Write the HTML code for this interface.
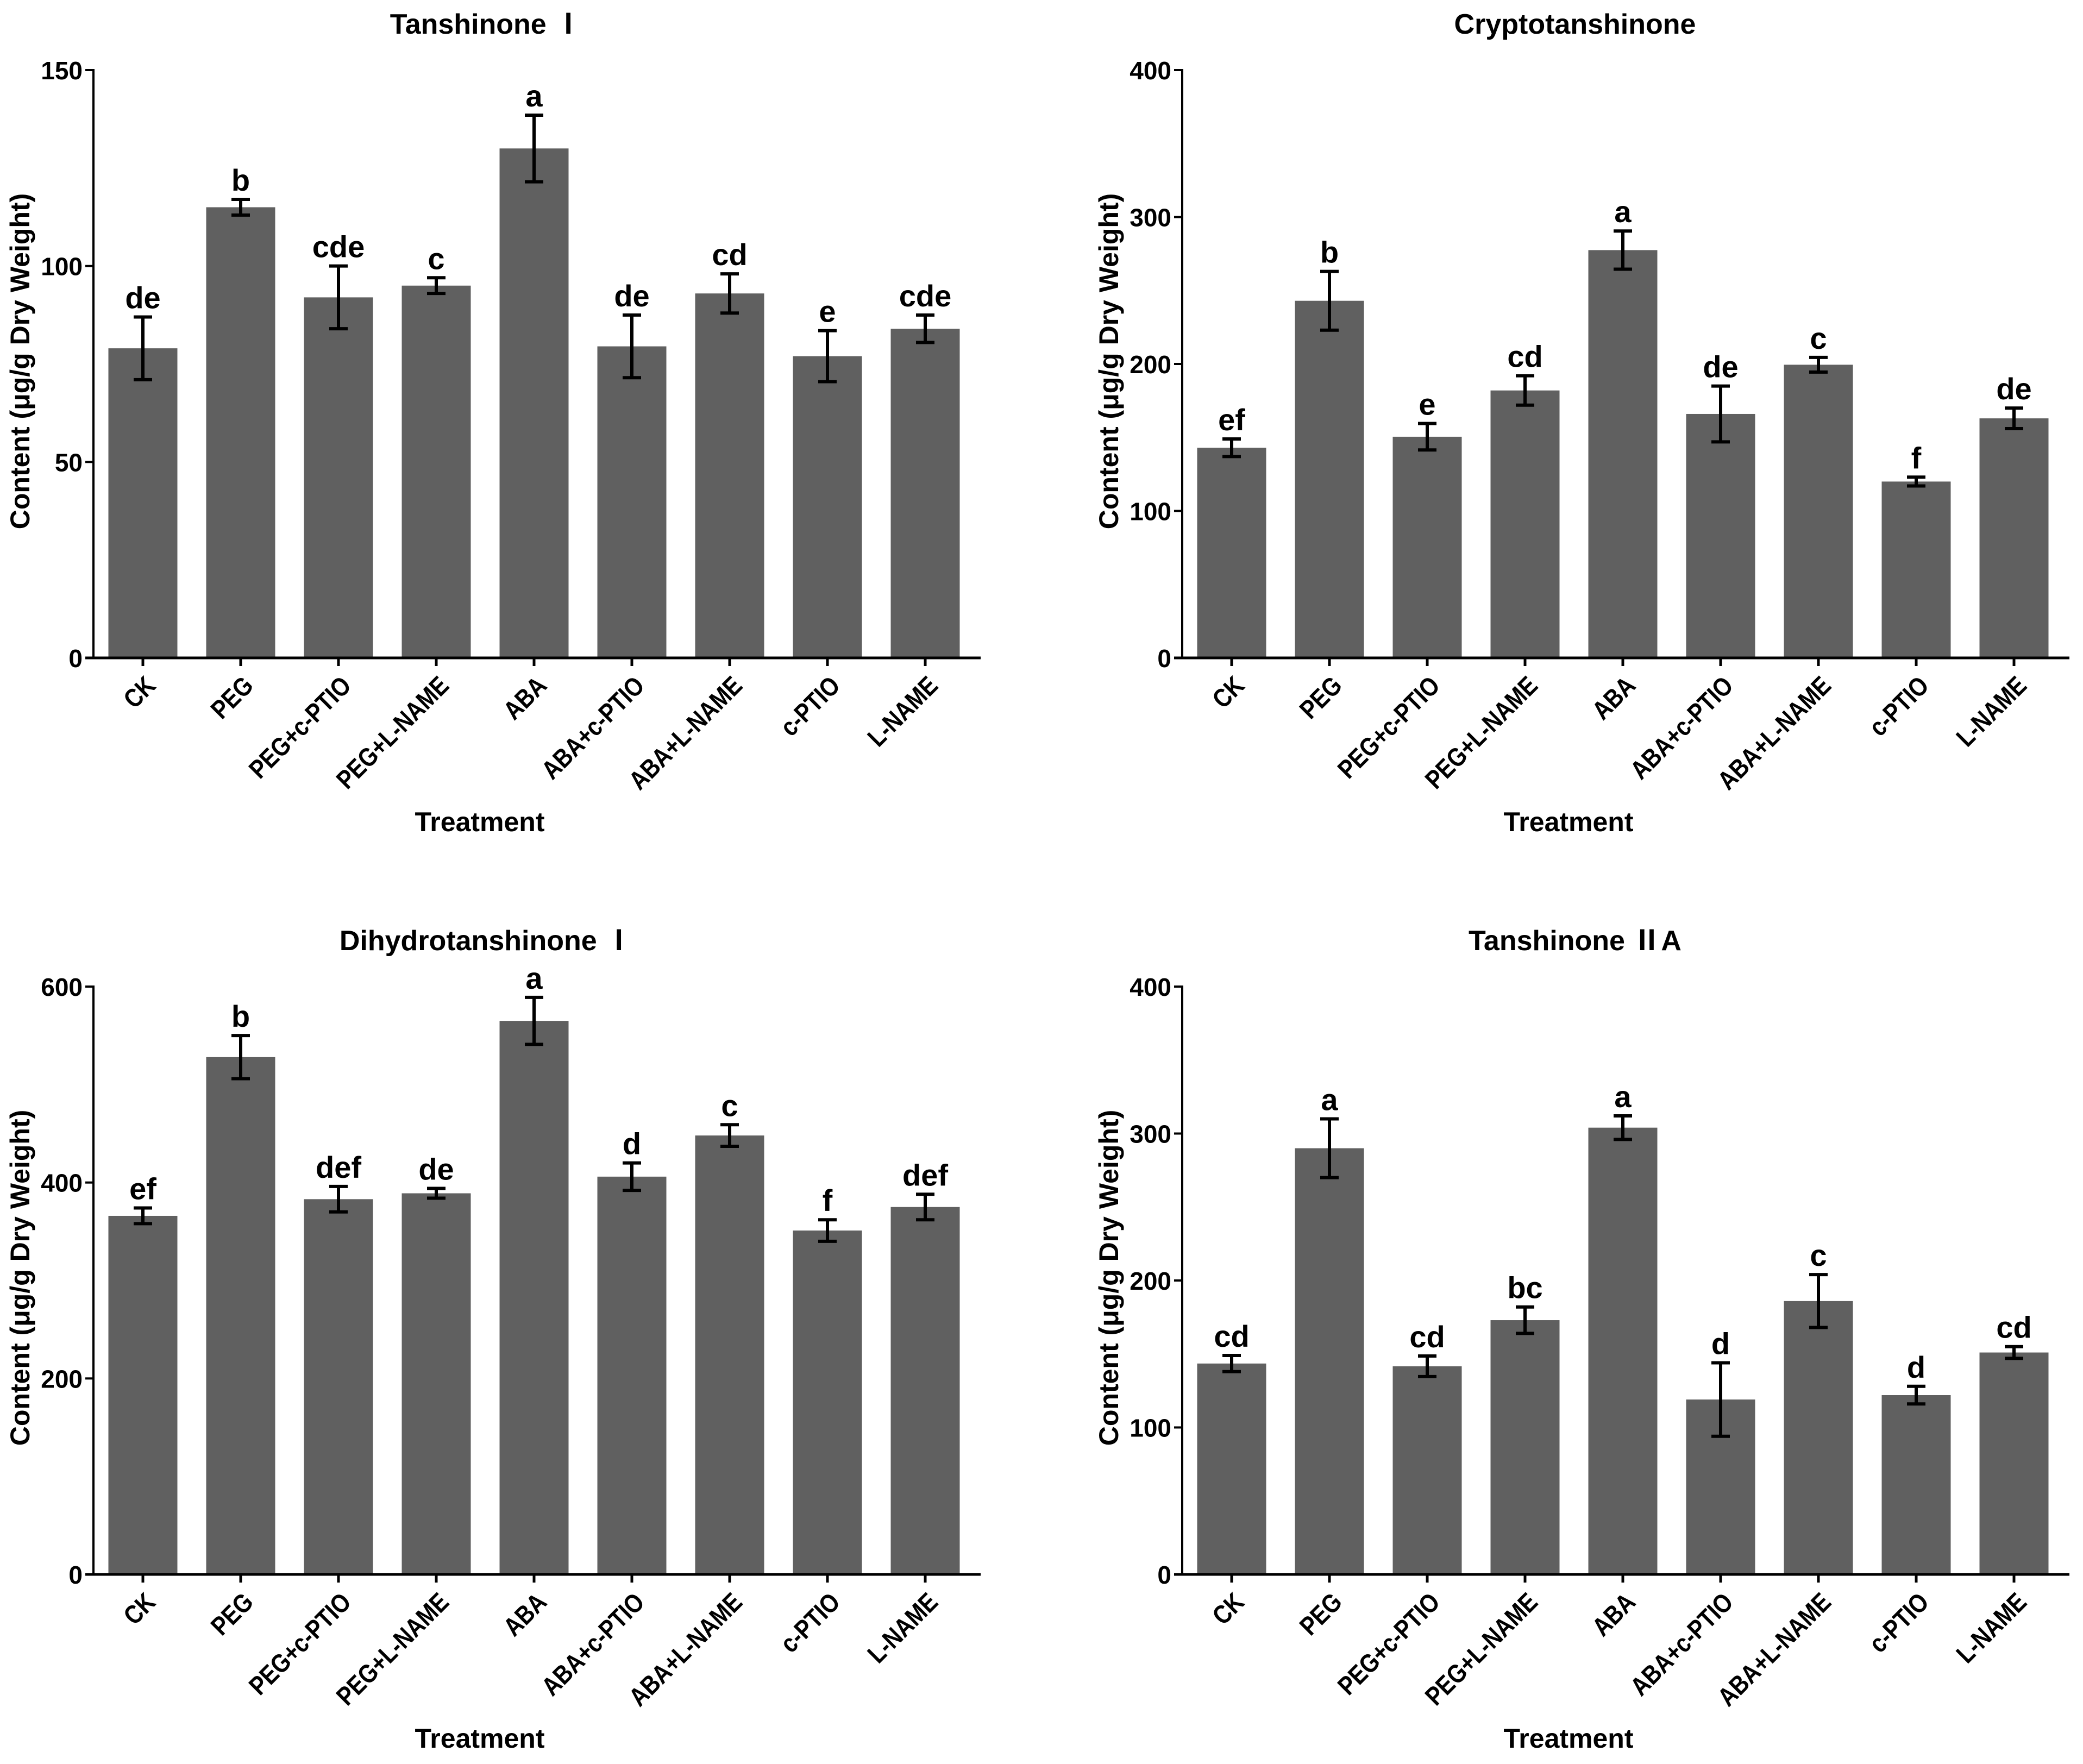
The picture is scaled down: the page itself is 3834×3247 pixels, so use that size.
<!DOCTYPE html>
<html><head><meta charset="utf-8"><style>
html,body{margin:0;padding:0;background:#fff;}
svg{display:block;font-family:"Liberation Sans","Noto Sans CJK SC",sans-serif;font-weight:bold;}
</style></head><body>
<svg id="fig" width="3834" height="3247" viewBox="0 0 3834 3247" xmlns="http://www.w3.org/2000/svg"></svg>
<script>
const categories = ["CK","PEG","PEG+c-PTIO","PEG+L-NAME","ABA","ABA+c-PTIO","ABA+L-NAME","c-PTIO","L-NAME"];

const t1Values = [79,115,92,95,130,79.5,93,77,84];
const t1Errors = [8,2,8,2,8.5,8,5,6.5,3.5];
const t1Letters = ["de","b","cde","c","a","de","cd","e","cde"];
const t1Ticks = [0,50,100,150];

const cryValues = [143,243,150.5,182,277.5,166,199.5,120,163];
const cryErrors = [6,20,9,10,13,19,5,3,7];
const cryLetters = ["ef","b","e","cd","a","de","c","f","de"];
const cryTicks = [0,100,200,300,400];

const dhValues = [366,528,383,389,565,406,448,351,375];
const dhErrors = [8,22,13,5,24,14,11,11,13];
const dhLetters = ["ef","b","def","de","a","d","c","f","def"];
const dhTicks = [0,200,400,600];

const t2Values = [143.5,290,141.6,173,304,119,186,122,151];
const t2Errors = [5.5,20,7,9,8,25,18,6,4];
const t2Letters = ["cd","a","cd","bc","a","d","c","d","cd"];
const t2Ticks = [0,100,200,300,400];

const NS = "http://www.w3.org/2000/svg";
const svg = document.getElementById("fig");
function mk(tag, attrs, parent){
  const e = document.createElementNS(NS, tag);
  for (const k in attrs) e.setAttribute(k, attrs[k]);
  (parent||svg).appendChild(e);
  return e;
}

function panel(key, title, ox, oy, values, errors, letters, ticks){
  const g = mk("g", {});
  
  
  const ax = ox + 172, y0 = oy + 1211, yTop = oy + 129, axEnd = ox + 1805;
  const ymax = ticks[ticks.length-1];
  const yScale = v => y0 - (v / ymax) * (y0 - yTop);
  const xScale = i => ox + 263 + i * 180;
  const bw = 127;

  const t = mk("text", {x: ox + 895, y: oy + 62, "text-anchor": "middle", "font-size": 52}, g);
  t.textContent = title;
  
  

  const yl = mk("text", {x: 0, y: 0, "text-anchor": "middle", "font-size": 50,
    transform: "translate(" + (ox + 54) + "," + (oy + 665) + ") rotate(-90)"}, g);
  yl.textContent = "Content (μg/g Dry Weight)";
  
  

  const xl = mk("text", {x: ox + 883, y: oy + 1530, "text-anchor": "middle", "font-size": 50}, g);
  xl.textContent = "Treatment";
  
  

  values.forEach((v, i) => {
    const cx = xScale(i);
    const r = mk("rect", {x: cx - bw/2, y: yScale(v), width: bw, height: y0 - yScale(v), fill: "#606060"}, g);
    
    
    const hi = yScale(v + errors[i]), lo = yScale(v - errors[i]);
    const eb = mk("path", {d: "M" + cx + " " + hi + "V" + lo + "M" + (cx-17) + " " + hi + "H" + (cx+17) + "M" + (cx-17) + " " + lo + "H" + (cx+17),
      stroke: "#000", "stroke-width": 6, fill: "none"}, g);
    
    
    const lt = mk("text", {x: cx, y: hi - 16, "text-anchor": "middle", "font-size": 56}, g);
    lt.textContent = letters[i];
    
    
    const tk = mk("line", {x1: cx, y1: y0, x2: cx, y2: y0 + 15, stroke: "#000", "stroke-width": 5}, g);
    
    
    const cl = mk("text", {x: 0, y: 0, "text-anchor": "end", "font-size": 48,
      transform: "translate(" + (cx + 26) + "," + (y0 + 54) + ") rotate(-45) scale(0.85,1)"}, g);
    cl.textContent = categories[i];
    
    
  });

  ticks.forEach(tv => {
    const y = yScale(tv);
    const tk = mk("line", {x1: ax - 15, y1: y, x2: ax, y2: y, stroke: "#000", "stroke-width": 4}, g);
    
    
    const tl = mk("text", {x: ax - 20, y: y + 17, "text-anchor": "end", "font-size": 46}, g);
    tl.textContent = tv;
    
    
  });

  const yax = mk("line", {x1: ax, y1: yTop - 2, x2: ax, y2: y0 + 2, stroke: "#000", "stroke-width": 4}, g);
  
  
  const xax = mk("line", {x1: ax - 15, y1: y0, x2: axEnd, y2: y0, stroke: "#000", "stroke-width": 5}, g);
  
  
}

panel("tanshinone-i", "Tanshinone Ⅰ", 0, 0, t1Values, t1Errors, t1Letters, t1Ticks);
panel("cryptotanshinone", "Cryptotanshinone", 2004, 0, cryValues, cryErrors, cryLetters, cryTicks);
panel("dihydrotanshinone-i", "Dihydrotanshinone Ⅰ", 0, 1687, dhValues, dhErrors, dhLetters, dhTicks);
panel("tanshinone-iia", "Tanshinone ⅡA", 2004, 1687, t2Values, t2Errors, t2Letters, t2Ticks);
</script>
</body></html>
